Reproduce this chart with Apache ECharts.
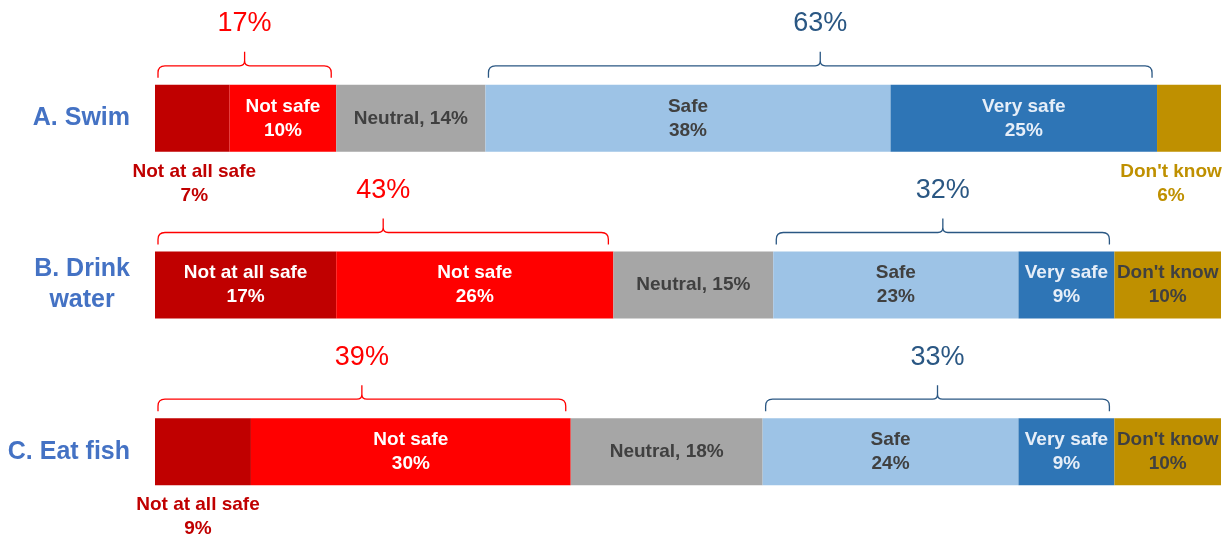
<!DOCTYPE html>
<html><head><meta charset="utf-8">
<script src="https://cdn.jsdelivr.net/npm/echarts@6/dist/echarts.min.js"></script>
<style>html,body{margin:0;padding:0;background:#fff}#c{width:1229px;height:535px}</style>
</head><body><div id="c"></div>
<script>
// ---- data ----
const categories = ['A. Swim', 'B. Drink\nwater', 'C. Eat fish'];
const seriesNames = ['Not at all safe', 'Not safe', 'Neutral', 'Safe', 'Very safe', "Don't know"];
const notAtAllSafe = [7, 17, 9];
const notSafe = [10, 26, 30];
const neutral = [14, 15, 18];
const safe = [38, 23, 24];
const verySafe = [25, 9, 9];
const dontKnow = [6, 10, 10];
const unsafeTotals = [17, 43, 39];
const safeTotals = [63, 32, 33];

// ---- styling ----
const FONT = '"Liberation Sans", Arial, sans-serif';
const colors = ['#C00000', '#FF0000', '#A6A6A6', '#9DC3E6', '#2E75B6', '#BF9000'];
const insideLabelColors = ['#FFFFFF', '#FFFFFF', '#404040', '#404040', '#E6EEF8', '#404040'];
const values = [notAtAllSafe, notSafe, neutral, safe, verySafe, dontKnow];
// items whose label sits below the bar: [seriesIndex, categoryIndex, offsetX]
const outsideItems = [[0, 0, 2], [0, 2, -5], [5, 0, -18]];

function labelText(si, v) {
  return si === 2 ? `Neutral, ${v}%` : `${seriesNames[si]}\n${v}%`;
}

const barSeries = values.map((arr, si) => ({
  name: seriesNames[si],
  type: 'bar',
  stack: 'total',
  barWidth: 67,
  itemStyle: { color: colors[si] },
  label: {
    show: true,
    position: 'inside',
    color: insideLabelColors[si],
    fontFamily: FONT,
    fontWeight: 'bold',
    fontSize: 19,
    lineHeight: 24,
    formatter: p => labelText(si, p.value)
  },
  data: arr.map((v, ci) => {
    const o = outsideItems.find(t => t[0] === si && t[1] === ci);
    if (!o) return v;
    return {
      value: v,
      label: {
        position: 'bottom', distance: 8, offset: [o[2], 0],
        color: colors[si]
      }
    };
  })
}));

// brackets: [category, start, end, total, colorIndex]
const bracketData = [];
categories.forEach((c, ci) => {
  const s0 = 0;
  const e0 = notAtAllSafe[ci] + notSafe[ci];
  const s1 = e0 + neutral[ci];
  const e1 = s1 + safe[ci] + verySafe[ci];
  bracketData.push([ci, s0, e0, unsafeTotals[ci], 0]);
  bracketData.push([ci, s1, e1, safeTotals[ci], 1]);
});
const bracketColors = ['#FF0000', '#2A5783'];

const bracketSeries = {
  type: 'custom',
  silent: true,
  encode: { x: [1, 2], y: 0 },
  data: bracketData,
  renderItem: (params, api) => {
    const ci = api.value(0);
    const p1 = api.coord([api.value(1), ci]);
    const p2 = api.coord([api.value(2), ci]);
    const top = p1[1] - 33.5;
    const x1 = p1[0] + 3, x2 = p2[0] - 5, xm = (x1 + x2) / 2;
    const yE = top - 7, yL = top - 19, yT = top - 33, r = 7;
    const col = bracketColors[api.value(4)];
    const d = `M${x1} ${yE} L${x1} ${yL + r} Q${x1} ${yL} ${x1 + r} ${yL} L${xm - 5} ${yL} Q${xm} ${yL} ${xm} ${yL - 5} L${xm} ${yT} M${xm} ${yL - 5} Q${xm} ${yL} ${xm + 5} ${yL} L${x2 - r} ${yL} Q${x2} ${yL} ${x2} ${yL + r} L${x2} ${yE}`;
    return {
      type: 'group',
      children: [
        { type: 'path', shape: { pathData: d }, style: { fill: null, stroke: col, lineWidth: 1.3 } },
        { type: 'text', style: { x: xm, y: top - 61, text: api.value(3) + '%', fill: col, font: `27px ${FONT}`, align: 'center', verticalAlign: 'middle' } }
      ]
    };
  }
};

const chart = echarts.init(document.getElementById('c'));
chart.setOption({
  animation: false,
  grid: { left: 155, right: 8, top: 35, height: 502, containLabel: false },
  xAxis: { type: 'value', min: 0, max: 100, show: false },
  yAxis: {
    type: 'category', inverse: true, data: categories,
    axisLine: { show: false }, axisTick: { show: false },
    axisLabel: {
      margin: 25, align: 'right',
      formatter: v => v.split('\n').map(s => `{c|${s}}`).join('\n'),
      rich: { c: { color: '#4472C4', fontFamily: FONT, fontWeight: 'bold', fontSize: 25, lineHeight: 31, align: 'center' } }
    }
  },
  series: [...barSeries, bracketSeries]
});
</script></body></html>
